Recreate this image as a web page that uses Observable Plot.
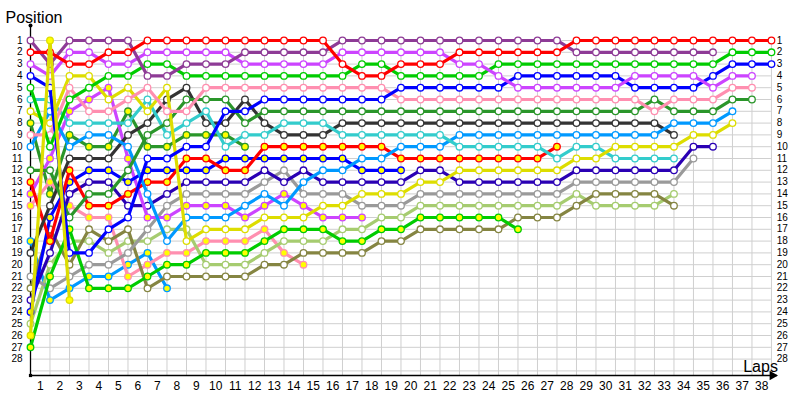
<!DOCTYPE html>
<html><head><meta charset="utf-8">
<script src="https://cdn.jsdelivr.net/npm/d3@7"></script>
<script src="https://cdn.jsdelivr.net/npm/@observablehq/plot@0.6"></script>
<style>body{margin:0;background:#fff}</style>
</head><body><div id="chart"></div>
<script>
// Lap chart: position of each car at the start (lap 0) and after each lap
const lapNumbers = d3.range(1, 39);
const positionLabels = d3.range(1, 29);
const gridLaps = d3.range(0, 39);
const gridPositions = d3.range(1, 30);

// first cars of each team (white markers)
const redCar1 = [2,2,3,3,2,2,1,1,1,1,1,1,1,1,1,1,3,4,4,3,3,3,2,2,2,2,2,2,1,1,1,1,1,1,1,1,1,1,1];
const purpleCar1 = [1,3,1,1,1,1,4,4,3,3,3,2,2,2,2,2,1,1,1,1,1,1,1,1,1,1,1,1,2,2,2,2,2,2,2,2];
const violetCar1 = [3,4,2,2,3,3,2,2,2,2,2,3,3,3,3,3,2,2,2,2,2,2,3,3,4,5,5,5,5,5,5,4,4,4,4,5,4,4];
const blueCar1 = [4,5,19,19,17,16,11,11,10,10,7,7,6,6,6,6,6,6,6,5,5,5,5,5,5,4,4,4,4,4,4,5,5,5,5,4,3,3,3];
const limeCar1 = [5,10,6,5,4,4,3,3,4,4,4,4,4,4,4,4,4,3,3,4,4,4,4,4,3,3,3,3,3,3,3,3,3,3,3,3,2,2,2];
const cyanCar1 = [6,6,8,8,8,8,6,9,8,7,10,9,9,8,8,8,9,9,9,9,9,9,10,10,10,10,10,11,10,10,11,11,11,11];
const yellowCar1 = [7,8,4,4,6,5,7,5,18,17,17,17,16,16,16,15,15,14,14,14,13,13,12,12,12,12,12,12,11,11,10,10,10,10,9,9,8];
const pinkCar1 = [9,9,5,7,7,6,5,7,7,5,5,5,5,5,5,5,5,5,5,6,6,6,6,6,6,6,6,6,6,6,6,6,7,6,6,6,5,5];
const skyCar1 = [10,7,10,9,9,10,14,18,16,16,16,15,14,15,13,12,12,11,11,10,10,10,9,9,9,9,9,9,9,9,9,9,9,8,8,8,7];
const forestCar1 = [12,12,16,14,14,12,9,8,6,6,6,8,7,7,7,7,7,7,7,7,7,7,7,7,7,7,7,7,7,7,7,7,6,7,7,7,6,6];
const darkCar1 = [19,15,11,11,11,9,8,6,5,8,8,6,8,9,9,9,8,8,8,8,8,8,8,8,8,8,8,8,8,8,8,8,8,9];
const grayCar1 = [21,22,21,20,20,19,17,15,14,14,14,14,13,12,14,14,14,15,15,15,14,14,14,14,14,14,14,14,13,13,13,13,13,13,11];
const oliveCar1 = [22,17,20,17,18,17,22,21,21,21,21,21,20,20,19,19,19,19,18,18,17,17,17,17,17,16,16,16,15,14,14,14,14,15];
const indigoCar1 = [23,19,14,13,13,15,15,14,13,13,13,13,12,13,12,13,13,13,13,13,12,12,13,13,13,13,13,13,12,12,12,12,12,12,10,10];
const paleCar1 = [25,20,18,18,19,18,18,17,17,20,20,20,19,18,18,18,17,17,16,16,15,15,15,15,15,15,15,15,14,15,15,15,15,14];

// second cars of each team (yellow markers)
const forestCar2 = [8,14,9,10,10,7,10,10,9,9,9,10];
const redCar2 = [13,18,12,15,15,14,13,13,11,11,12,12,10,10,10,10,10,10,10,11,11,11,11,11,11,11,11,10];
const violetCar2 = [14,11,7,6,5,11,16,16,15,15,15,16,15,14,15,16,16,16];
const pinkCar2 = [15,13,15,16,16,21,20,19,19,18,18,18,17,19,20];
const skyCar2 = [18,23,22,21,21,20,19,22];
const blueCar2 = [24,16,13,12,12,13,12,12,12,12,11,11,11,11,11,11,11,12,12,12];
const limeCar2 = [27,21,17,22,22,22,21,20,20,19,19,19,18,17,17,17,18,18,17,17,16,16,16,16,16,17];
const yellowCar2 = [26,1,23];

const cars = [
  {values: forestCar2, color: "#2a962a", second: true},
  {values: skyCar2, color: "#0099ff", second: true},
  {values: pinkCar2, color: "#ff8fb0", second: true},
  {values: paleCar1, color: "#a6cc70", second: false},
  {values: oliveCar1, color: "#858542", second: false},
  {values: grayCar1, color: "#9a9a9a", second: false},
  {values: indigoCar1, color: "#2a00b4", second: false},
  {values: limeCar2, color: "#00cc00", second: true},
  {values: violetCar2, color: "#cc44ff", second: true},
  {values: blueCar2, color: "#0000ff", second: true},
  {values: redCar2, color: "#ff0000", second: true},
  {values: darkCar1, color: "#333333", second: false},
  {values: skyCar1, color: "#0099ff", second: false},
  {values: cyanCar1, color: "#33cccc", second: false},
  {values: forestCar1, color: "#2a962a", second: false},
  {values: yellowCar1, color: "#dddd00", second: false},
  {values: pinkCar1, color: "#ff8fb0", second: false},
  {values: blueCar1, color: "#0000ff", second: false},
  {values: limeCar1, color: "#00cc00", second: false},
  {values: violetCar1, color: "#cc44ff", second: false},
  {values: purpleCar1, color: "#8e3b96", second: false},
  {values: redCar1, color: "#ff0000", second: false},
  {values: yellowCar2, color: "#dddd00", second: true}
];

const yTop = -0.27, yBottom = 29.39, xEnd = 38.72;

const carMarks = cars.flatMap(c => {
  const rows = c.values.map((p, i) => ({lap: i, pos: p}));
  return [
    Plot.line(rows, {x: "lap", y: "pos", stroke: c.color, strokeWidth: 3.2, strokeLinejoin: "round"}),
    Plot.dot(rows, {x: "lap", y: "pos", r: 3.3, fill: c.second ? "#ffff00" : "white", stroke: c.color, strokeWidth: 1.3})
  ];
});

const chart = Plot.plot({
  width: 800, height: 400,
  marginLeft: 30, marginRight: 15, marginTop: 25, marginBottom: 25,
  style: {fontFamily: "Liberation Sans, Arial, sans-serif", background: "white", color: "black"},
  x: {domain: [0, xEnd], axis: null},
  y: {domain: [yTop, yBottom], reverse: true, axis: null},
  marks: [
    Plot.ruleX(gridLaps, {x: d => d, y1: 1, y2: yBottom, stroke: "#cfcfcf", strokeWidth: 1}),
    Plot.ruleY(gridPositions, {y: d => d, x1: 0, x2: 38, stroke: "#cfcfcf", strokeWidth: 1}),
    Plot.ruleX([0], {y1: yTop, y2: yBottom, stroke: "black", strokeWidth: 1.3}),
    Plot.ruleY([yBottom], {x1: 0, x2: 38.3, stroke: "black", strokeWidth: 1.3}),
    Plot.dot([0], {x: 0, y: yTop, r: 2, fill: "black"}),
    Plot.dot([0], {x: 0, y: yBottom, r: 1.8, fill: "black", symbol: "square"}),
    Plot.dot([0], {x: 38.05, y: yBottom, r: 3.6, fill: "black", symbol: "triangle", rotate: 90}),
    Plot.axisY({ticks: positionLabels, anchor: "left", label: null, tickSize: 0, tickPadding: 8, fontSize: 10, fill: "black"}),
    Plot.axisX({ticks: lapNumbers.map(n => n - 0.5), tickFormat: d => String(Math.round(d + 0.5)), anchor: "bottom", label: null, tickSize: 0, tickPadding: 6, fontSize: 12, fill: "black"}),
    Plot.text(positionLabels, {x: 38.27, y: d => d, text: d => String(d), textAnchor: "start", fontSize: 10, fill: "black"}),
    Plot.text(["Position"], {x: -1.28, y: -0.45, text: d => d, textAnchor: "start", lineAnchor: "bottom", fontSize: 16, fill: "black"}),
    Plot.text(["Laps"], {x: 36.55, y: 29.1, text: d => d, textAnchor: "start", lineAnchor: "bottom", fontSize: 16, fill: "black"}),
    ...carMarks
  ]
});
document.getElementById("chart").append(chart);
</script>
</body></html>
